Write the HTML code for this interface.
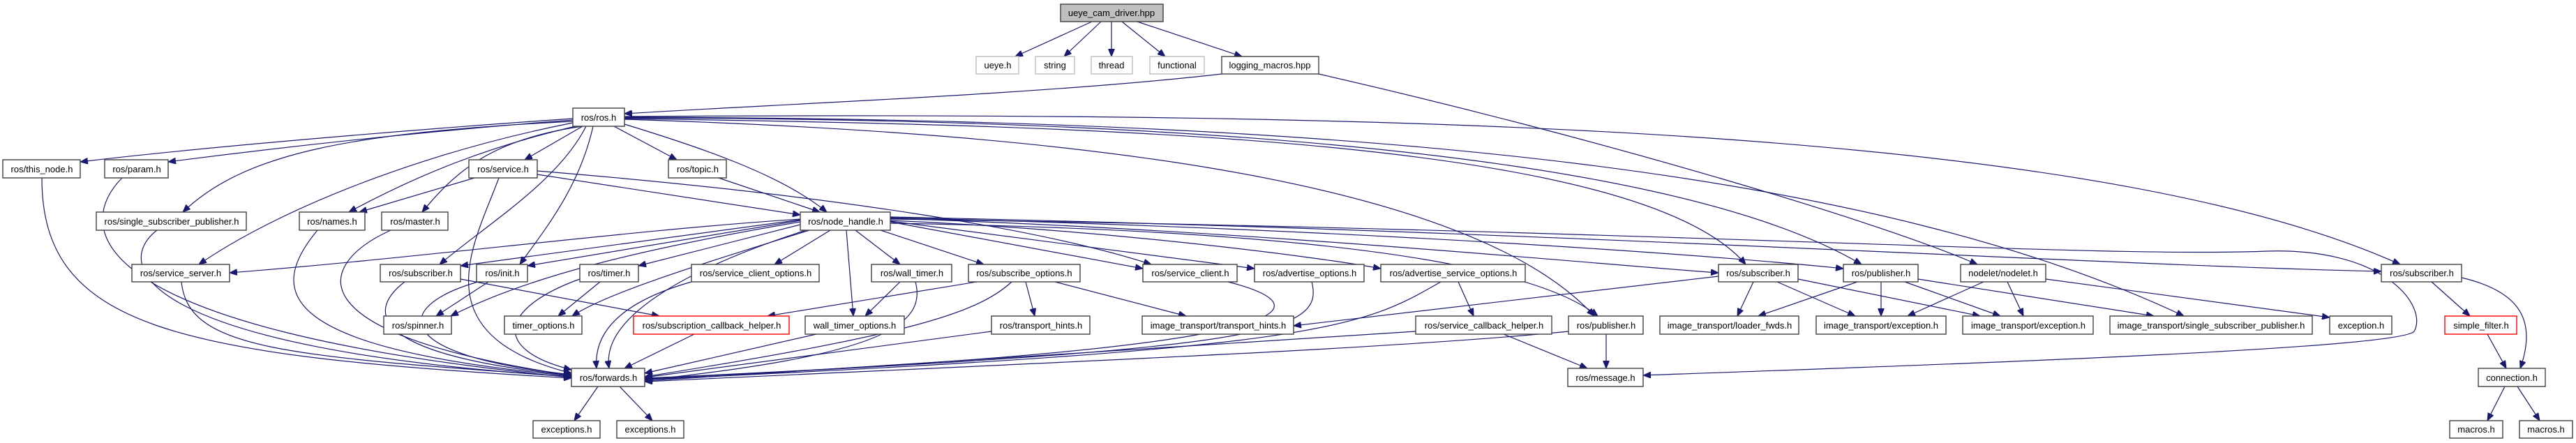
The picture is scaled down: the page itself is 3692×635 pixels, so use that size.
<!DOCTYPE html>
<html><head><meta charset="utf-8"><style>
html,body{margin:0;padding:0;background:#fff;}
svg{display:block;}
text{font-family:"Liberation Sans",sans-serif;font-size:13px;fill:#000;text-anchor:middle;}
.b{fill:#fff;stroke:#404040;stroke-width:1.4;}
.g{fill:#fff;stroke:#bfbfbf;stroke-width:1.4;}
.r{fill:#fff;stroke:#ff0000;stroke-width:1.4;}
.e{fill:none;stroke:#191970;stroke-width:1.2;marker-end:url(#a);}
</style></head><body>
<svg width="3692" height="635" viewBox="0 0 3692 635" xmlns="http://www.w3.org/2000/svg">
<defs><marker id="a" markerWidth="11" markerHeight="9" refX="11" refY="4.5" orient="auto" markerUnits="userSpaceOnUse"><path d="M0,0 L11,4.5 L0,9z" fill="#191970" stroke="#191970"/></marker></defs>
<g>
<path class="e" d="M1565,31 L1455,81"/>
<path class="e" d="M1578,31 L1525,81"/>
<path class="e" d="M1593,31 L1593,81"/>
<path class="e" d="M1608,31 L1670,81"/>
<path class="e" d="M1630,31 L1780,81"/>
<path class="e" d="M1751,106 C1500,135 1100,150 895,163"/>
<path class="e" d="M1890,106 C2300,200 2700,320 2834,379"/>
<path class="e" d="M821,170 C600,185 300,210 115,232"/>
<path class="e" d="M821,172 C650,185 450,205 241,232"/>
<path class="e" d="M821,174 C500,190 350,220 262,304"/>
<path class="e" d="M821,176 C600,220 400,300 285,379"/>
<path class="e" d="M825,181 C700,210 600,250 500,304"/>
<path class="e" d="M835,181 C700,200 650,250 605,304"/>
<path class="e" d="M835,181 L752,229"/>
<path class="e" d="M840,181 C800,260 700,320 630,379"/>
<path class="e" d="M850,181 C830,270 780,330 745,379"/>
<path class="e" d="M880,181 L970,229"/>
<path class="e" d="M895,178 C1000,210 1120,250 1185,304"/>
<path class="e" d="M895,171 C1500,190 2100,250 2285,453"/>
<path class="e" d="M895,170 C1600,180 2350,200 2502,379"/>
<path class="e" d="M895,169 C1700,170 2400,220 2668,379"/>
<path class="e" d="M895,167 C2000,160 3000,180 3440,379"/>
<path class="e" d="M895,168 C2000,170 2700,250 3130,453"/>
<path class="e" d="M680,255 L515,304"/>
<path class="e" d="M715,255 C680,350 600,480 819,535"/>
<path class="e" d="M770,250 L1147,308"/>
<path class="e" d="M770,245 C1200,280 1500,330 1650,379"/>
<path class="e" d="M1030,255 L1175,304"/>
<path class="e" d="M455,330 C380,420 400,500 819,539"/>
<path class="e" d="M560,330 C450,380 420,480 819,538"/>
<path class="e" d="M60,255 C60,470 250,510 819,542"/>
<path class="e" d="M175,255 C110,320 100,470 819,541"/>
<path class="e" d="M225,330 C160,380 200,500 819,540"/>
<path class="e" d="M260,404 C270,500 400,510 819,540"/>
<path class="e" d="M580,404 C520,450 540,510 819,538"/>
<path class="e" d="M660,400 L945,453"/>
<path class="e" d="M700,404 L625,453"/>
<path class="e" d="M685,404 C560,440 560,510 819,537"/>
<path class="e" d="M1147,318 C900,360 750,400 646,453"/>
<path class="e" d="M1147,315 L660,381"/>
<path class="e" d="M1147,316 L756,381"/>
<path class="e" d="M1147,314 C900,330 600,370 329,391"/>
<path class="e" d="M1147,322 L915,381"/>
<path class="e" d="M1160,330 C1000,380 870,420 820,453"/>
<path class="e" d="M1155,330 C1000,380 860,450 873,528"/>
<path class="e" d="M1190,330 L1110,379"/>
<path class="e" d="M1213,330 L1223,453"/>
<path class="e" d="M1226,330 L1290,379"/>
<path class="e" d="M1262,330 L1410,379"/>
<path class="e" d="M1276,318 L1638,385"/>
<path class="e" d="M1276,317 L1798,385"/>
<path class="e" d="M1276,316 C1600,330 1900,370 1979,385"/>
<path class="e" d="M1276,313 C1800,330 2300,380 2463,391"/>
<path class="e" d="M1276,312 C2000,330 2500,370 2642,385"/>
<path class="e" d="M1276,311 C2200,330 3000,380 3413,389"/>
<path class="e" d="M1276,320 C1900,330 2200,380 2290,453"/>
<path class="e" d="M1276,314 C2400,330 3000,370 3250,360 C3420,355 3480,440 3460,475 C3440,500 2800,522 2355,538"/>
<path class="e" d="M860,404 L800,453"/>
<path class="e" d="M831,400 C720,440 700,500 819,530"/>
<path class="e" d="M991,404 C900,430 850,470 855,528"/>
<path class="e" d="M1290,404 L1240,453"/>
<path class="e" d="M1312,404 C1330,470 1250,510 924,545"/>
<path class="e" d="M1170,479 L924,535"/>
<path class="e" d="M995,479 L895,528"/>
<path class="e" d="M1400,404 L1100,453"/>
<path class="e" d="M1450,404 C1400,450 1300,480 924,540"/>
<path class="e" d="M1470,404 L1483,453"/>
<path class="e" d="M1512,404 L1700,453"/>
<path class="e" d="M1421,475 L924,541"/>
<path class="e" d="M2463,396 L1854,467"/>
<path class="e" d="M1760,404 C1900,440 1900,500 924,542"/>
<path class="e" d="M1880,404 C1900,480 1800,500 924,543"/>
<path class="e" d="M2090,404 L2112,453"/>
<path class="e" d="M2065,404 C1950,470 1900,500 924,544"/>
<path class="e" d="M2029,475 L924,546"/>
<path class="e" d="M2155,479 L2275,528"/>
<path class="e" d="M2302,479 L2302,528"/>
<path class="e" d="M2248,475 C2000,500 1500,520 924,547"/>
<path class="e" d="M2513,404 L2490,453"/>
<path class="e" d="M2547,404 L2659,453"/>
<path class="e" d="M2577,400 L2838,453"/>
<path class="e" d="M2662,404 L2520,453"/>
<path class="e" d="M2696,404 L2696,453"/>
<path class="e" d="M2730,404 L2867,453"/>
<path class="e" d="M2749,400 L3087,453"/>
<path class="e" d="M2843,404 L2734,453"/>
<path class="e" d="M2877,404 L2900,453"/>
<path class="e" d="M2932,400 L3339,455"/>
<path class="e" d="M3485,404 L3540,453"/>
<path class="e" d="M3528,398 C3600,415 3640,450 3612,528"/>
<path class="e" d="M3565,479 L3592,528"/>
<path class="e" d="M3590,554 L3565,603"/>
<path class="e" d="M3608,554 L3640,603"/>
<path class="e" d="M857,554 L823,603"/>
<path class="e" d="M888,554 L935,603"/>
</g>
<g>
<rect x="1520" y="6" width="147" height="25" fill="#bfbfbf" stroke="#404040" stroke-width="1.4"/><text x="1593" y="23">ueye_cam_driver.hpp</text>
<rect class="g" x="1399" y="81" width="61" height="25"/><text x="1430" y="98">ueye.h</text>
<rect class="g" x="1484" y="81" width="56" height="25"/><text x="1512" y="98">string</text>
<rect class="g" x="1564" y="81" width="59" height="25"/><text x="1593" y="98">thread</text>
<rect class="g" x="1648" y="81" width="78" height="25"/><text x="1687" y="98">functional</text>
<rect class="b" x="1751" y="81" width="139" height="25"/><text x="1820" y="98">logging_macros.hpp</text>
<rect class="b" x="821" y="155" width="74" height="26"/><text x="858" y="173">ros/ros.h</text>
<rect class="b" x="4" y="229" width="111" height="26"/><text x="60" y="247">ros/this_node.h</text>
<rect class="b" x="150" y="229" width="91" height="26"/><text x="196" y="247">ros/param.h</text>
<rect class="b" x="672" y="229" width="98" height="26"/><text x="721" y="247">ros/service.h</text>
<rect class="b" x="958" y="229" width="83" height="26"/><text x="1000" y="247">ros/topic.h</text>
<rect class="b" x="138" y="304" width="215" height="26"/><text x="246" y="322">ros/single_subscriber_publisher.h</text>
<rect class="b" x="429" y="304" width="94" height="26"/><text x="476" y="322">ros/names.h</text>
<rect class="b" x="547" y="304" width="95" height="26"/><text x="595" y="322">ros/master.h</text>
<rect class="b" x="1147" y="304" width="129" height="26"/><text x="1212" y="322">ros/node_handle.h</text>
<rect class="b" x="189" y="379" width="140" height="25"/><text x="259" y="396">ros/service_server.h</text>
<rect class="b" x="545" y="379" width="115" height="25"/><text x="603" y="396">ros/subscriber.h</text>
<rect class="b" x="683" y="379" width="73" height="25"/><text x="720" y="396">ros/init.h</text>
<rect class="b" x="831" y="379" width="84" height="25"/><text x="873" y="396">ros/timer.h</text>
<rect class="b" x="991" y="379" width="183" height="25"/><text x="1083" y="396">ros/service_client_options.h</text>
<rect class="b" x="1249" y="379" width="115" height="25"/><text x="1307" y="396">ros/wall_timer.h</text>
<rect class="b" x="1388" y="379" width="160" height="25"/><text x="1468" y="396">ros/subscribe_options.h</text>
<rect class="b" x="1638" y="379" width="135" height="25"/><text x="1706" y="396">ros/service_client.h</text>
<rect class="b" x="1798" y="379" width="157" height="25"/><text x="1877" y="396">ros/advertise_options.h</text>
<rect class="b" x="1979" y="379" width="207" height="25"/><text x="2083" y="396">ros/advertise_service_options.h</text>
<rect class="b" x="2463" y="379" width="114" height="25"/><text x="2520" y="396">ros/subscriber.h</text>
<rect class="b" x="2642" y="379" width="107" height="25"/><text x="2696" y="396">ros/publisher.h</text>
<rect class="b" x="2810" y="379" width="122" height="25"/><text x="2871" y="396">nodelet/nodelet.h</text>
<rect class="b" x="3413" y="379" width="115" height="25"/><text x="3471" y="396">ros/subscriber.h</text>
<rect class="b" x="550" y="453" width="97" height="26"/><text x="599" y="471">ros/spinner.h</text>
<rect class="b" x="723" y="453" width="111" height="26"/><text x="779" y="471">timer_options.h</text>
<rect class="r" x="908" y="453" width="223" height="26"/><text x="1020" y="471">ros/subscription_callback_helper.h</text>
<rect class="b" x="1154" y="453" width="142" height="26"/><text x="1225" y="471">wall_timer_options.h</text>
<rect class="b" x="1421" y="453" width="141" height="26"/><text x="1492" y="471">ros/transport_hints.h</text>
<rect class="b" x="1637" y="453" width="217" height="26"/><text x="1746" y="471">image_transport/transport_hints.h</text>
<rect class="b" x="2029" y="453" width="195" height="26"/><text x="2127" y="471">ros/service_callback_helper.h</text>
<rect class="b" x="2248" y="453" width="107" height="26"/><text x="2302" y="471">ros/publisher.h</text>
<rect class="b" x="2379" y="453" width="199" height="26"/><text x="2479" y="471">image_transport/loader_fwds.h</text>
<rect class="b" x="2603" y="453" width="186" height="26"/><text x="2696" y="471">image_transport/exception.h</text>
<rect class="b" x="2813" y="453" width="187" height="26"/><text x="2907" y="471">image_transport/exception.h</text>
<rect class="b" x="3024" y="453" width="290" height="26"/><text x="3169" y="471">image_transport/single_subscriber_publisher.h</text>
<rect class="b" x="3339" y="453" width="89" height="26"/><text x="3384" y="471">exception.h</text>
<rect class="r" x="3504" y="453" width="103" height="26"/><text x="3556" y="471">simple_filter.h</text>
<rect class="b" x="819" y="528" width="105" height="26"/><text x="872" y="546">ros/forwards.h</text>
<rect class="b" x="2247" y="528" width="108" height="26"/><text x="2301" y="546">ros/message.h</text>
<rect class="b" x="3552" y="528" width="96" height="26"/><text x="3600" y="546">connection.h</text>
<rect class="b" x="764" y="603" width="96" height="25"/><text x="812" y="620">exceptions.h</text>
<rect class="b" x="884" y="603" width="96" height="25"/><text x="932" y="620">exceptions.h</text>
<rect class="b" x="3511" y="603" width="76" height="25"/><text x="3549" y="620">macros.h</text>
<rect class="b" x="3611" y="603" width="76" height="25"/><text x="3649" y="620">macros.h</text>
</g>
</svg>
</body></html>
